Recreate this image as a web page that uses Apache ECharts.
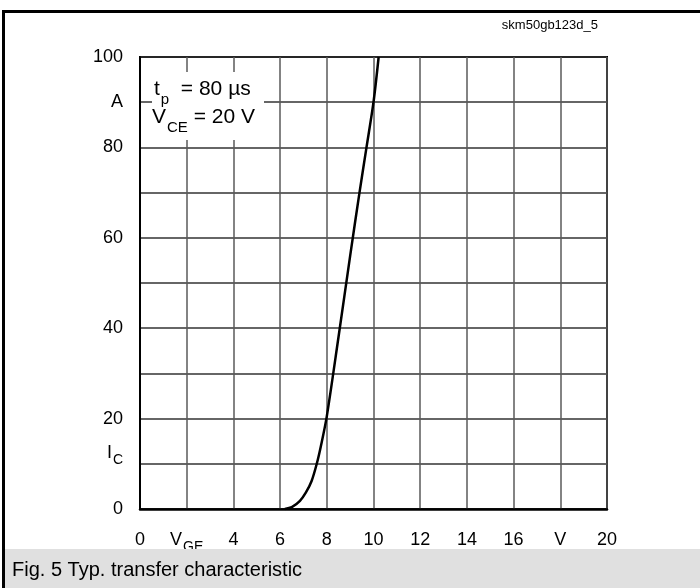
<!DOCTYPE html>
<html>
<head>
<meta charset="utf-8">
<script src="https://cdn.jsdelivr.net/npm/echarts@6/dist/echarts.min.js"></script>
<style>
  html, body { margin: 0; padding: 0; background: #fff; }
  #chart { width: 700px; height: 588px; }
</style>
</head>
<body>
<div id="chart"></div>
<script>
// Transfer characteristic: collector current I_C versus gate-emitter voltage V_GE
const vge = [6.2, 6.5, 6.85, 7.1, 7.35, 7.57, 7.75, 8.0, 8.5, 9.0, 9.4, 9.7, 10.0, 10.22];
const ic  = [0, 0.4, 1.8, 3.6, 6.2, 10, 14, 20.5, 38, 56, 70, 80, 90, 100];

// Tick labels (value -> text); empty entries keep the grid line but no label
const xTickLabels = { 0: '0', 2: '{v|V}{sub|GE}', 4: '4', 6: '6', 8: '8', 10: '10', 12: '12', 14: '14', 16: '16', 18: 'V', 20: '20' };
// the I_C label sits above its grid line: a blank second line lifts it
const yTickLabels = { 0: '0', 10: '{v|I}{sub|C}\n{gap| }', 20: '20', 40: '40', 60: '60', 80: '80', 90: 'A', 100: '100' };

const figureId = 'skm50gb123d_5';
const caption = 'Fig. 5 Typ. transfer characteristic';
const condLine1 = '{lv|t}{lsub|p}{lv|  = 80 µs}';
const condLine2 = '{lv|V}{lsub|CE}{lv| = 20 V}';

const FONT = '"Liberation Sans", Arial, sans-serif';
const rich = {
  v:    { fontSize: 18, fontFamily: FONT, color: '#000', lineHeight: 18, verticalAlign: 'top' },
  sub:  { fontSize: 14, fontFamily: FONT, color: '#000', lineHeight: 14, verticalAlign: 'top', padding: [9, 0, 0, 1] },
  gap:  { fontSize: 10, lineHeight: 22 },
  lv:   { fontSize: 21, fontFamily: FONT, color: '#000', lineHeight: 21, verticalAlign: 'top' },
  lsub: { fontSize: 15, fontFamily: FONT, color: '#000', lineHeight: 15, verticalAlign: 'top', padding: [13, 0, 0, 1] }
};

const chart = echarts.init(document.getElementById('chart'), null, { renderer: 'canvas' });

chart.setOption({
  animation: false,
  backgroundColor: '#fff',
  grid: {
    left: 140, top: 57, width: 467, height: 452,
    show: true, borderColor: '#000', borderWidth: 2, backgroundColor: '#fff'
  },
  xAxis: {
    type: 'value', min: 0, max: 20, interval: 2,
    axisLine: { show: true, lineStyle: { color: '#000', width: 2.5 } },
    axisTick: { show: false },
    splitLine: { show: true, lineStyle: { color: '#5a5a5a', width: 1.5 } },
    axisLabel: {
      margin: 22, fontSize: 18, fontFamily: FONT, color: '#000',
      formatter: v => xTickLabels[v] || '', rich: rich
    }
  },
  yAxis: {
    type: 'value', min: 0, max: 100, interval: 10,
    axisLine: { show: true, lineStyle: { color: '#000', width: 2 } },
    axisTick: { show: false },
    splitLine: { show: true, lineStyle: { color: '#333', width: 1.5 } },
    axisLabel: {
      margin: 17, fontSize: 18, fontFamily: FONT, color: '#000',
      formatter: v => yTickLabels[v] || '', rich: rich
    }
  },
  series: [{
    type: 'line',
    data: vge.map((v, i) => [v, ic[i]]),
    smooth: 0.3,
    showSymbol: false,
    clip: true,
    lineStyle: { color: '#000', width: 2.5 },
    z: 5
  }],
  graphic: [
    // outer frame
    { type: 'rect', shape: { x: 2, y: 10, width: 700, height: 3 }, style: { fill: '#000' }, z: 10 },
    { type: 'rect', shape: { x: 2, y: 10, width: 3, height: 580 }, style: { fill: '#000' }, z: 10 },
    // caption band
    { type: 'rect', shape: { x: 5, y: 549, width: 700, height: 40 }, style: { fill: '#e0e0e0' }, z: 1 },
    { type: 'text', left: 12, top: 560, style: { text: caption, font: '20px ' + FONT, fill: '#000' }, z: 11 },
    // figure id
    { type: 'text', right: 102, top: 19, style: { text: figureId, font: '13px ' + FONT, fill: '#000' }, z: 11 },
    // test-condition box
    { type: 'rect', shape: { x: 152, y: 72, width: 112, height: 68 }, style: { fill: '#fff' }, z: 20 },
    { type: 'text', left: 154, top: 79, z: 21, style: { text: condLine1, rich: rich } },
    { type: 'text', left: 152, top: 107, z: 21, style: { text: condLine2, rich: rich } }
  ]
});
</script>
</body>
</html>
